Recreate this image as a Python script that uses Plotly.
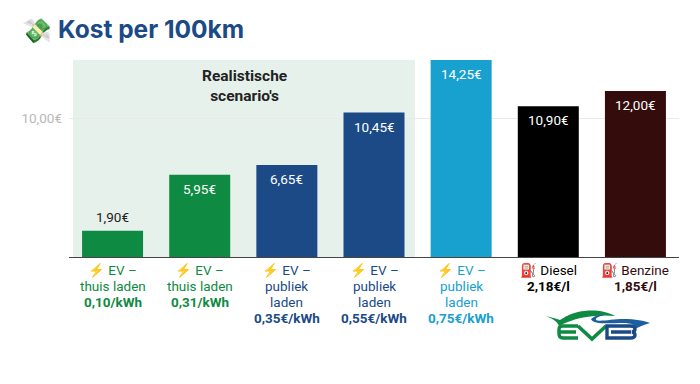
import plotly.graph_objects as go
import base64

categories = [["EV –", "thuis laden"], ["EV –", "thuis laden"], ["EV –", "publiek", "laden"], ["EV –", "publiek", "laden"], ["EV –", "publiek", "laden"], ["Diesel"], ["Benzine"]]
icons = ["⚡", "⚡", "⚡", "⚡", "⚡", "⛽", "⛽"]
prices = ["0,10/kWh", "0,31/kWh", "0,35€/kWh", "0,55€/kWh", "0,75€/kWh", "2,18€/l", "1,85€/l"]
values = [1.90, 5.95, 6.65, 10.45, 14.25, 10.90, 12.00]
value_labels = ["1,90€", "5,95€", "6,65€", "10,45€", "14,25€", "10,90€", "12,00€"]
bar_colors = ["#0f8a43", "#0f8a43", "#1b4a87", "#1b4a87", "#18a0cf", "#000000", "#340c0c"]

logo_svg = """<svg xmlns='http://www.w3.org/2000/svg' viewBox='0 0 125 45'>
<path d='M10 11 C17 13 22 16 24 21 C36 13 50 9 66 7 C50 5 34 9 25 15 C20 13 15 12 10 11Z' fill='#0f8a43'/>
<path d='M24 21 C40 12 62 9 80 11 C68 4 46 3 30 12 Z' fill='#0f8a43'/>
<path d='M56 14 C60 10 66 9 70 10 C64 11 60 13 61 15 C64 17 78 14 88 14 C100 14 110 16 115 18 C108 20 104 22 100 24 C102 20 96 18 88 18 C76 18 58 20 56 14Z' fill='#1b5f9e'/>
<path d='M43 21 H28 Q24 21 24 24 V29 Q24 33 28 33 H43 M25 27 H41' fill='none' stroke='#0f8a43' stroke-width='3.4'/>
<path d='M43 21 L57 34 L71 21' fill='none' stroke='#0f8a43' stroke-width='3.6'/>
<path d='M72 21 H95 Q100 21 100 24 Q100 26.5 97 27 Q100 27.5 100 30 Q100 33 95 33 H72 Z M76 27 H96' fill='#ffffff' stroke='#1b4a87' stroke-width='3.4'/>
</svg>"""
logo_uri = "data:image/svg+xml;base64," + base64.b64encode(logo_svg.encode()).decode()

x = list(range(len(values)))
fig = go.Figure(go.Bar(
    x=x, y=values, width=0.7, marker=dict(color=bar_colors, line=dict(width=0)),
    cliponaxis=False, hoverinfo="skip",
))
for i, (v, lab) in enumerate(zip(values, value_labels)):
    fig.add_annotation(x=i, y=v, text=lab, showarrow=False, yanchor="middle",
                       yshift=14 if i == 0 else -14,
                       font=dict(family="Roboto", size=13.5, color="#222222" if i == 0 else "#ffffff"))
# category labels, one annotation per line (16px line pitch, per-category colour)
for i, (cat, icon, price, col) in enumerate(zip(categories, icons, prices, bar_colors)):
    lines = [f"{icon} {cat[0]}"] + cat[1:] + [f"<b>{price}</b>"]
    for k, line in enumerate(lines):
        fig.add_annotation(x=i, xref="x", yref="paper", y=0, xanchor="center", yanchor="middle",
                           yshift=-13 - 16 * k, showarrow=False, text=line,
                           font=dict(family="Roboto", size=13.5, color=col))
fig.add_shape(type="rect", layer="between", xref="paper", yref="paper", x0=0.0066, x1=0.5672, y0=0, y1=1,
              fillcolor="#e6f1ec", line_width=0)
fig.add_annotation(xref="paper", yref="paper", x=0.2885, xanchor="center", y=1.0, yanchor="top", yshift=-5, showarrow=False,
                   text="<b>Realistische<br>scenario's</b>", font=dict(family="Roboto", size=15.5, color="#222222"))
fig.add_annotation(xref="paper", yref="paper", xanchor="left", yanchor="middle", x=-0.0217, y=1.158, showarrow=False,
                   text="<b>Kost per 100km</b>", font=dict(family="Inter", size=24.5, color="#1b4a87", weight=800))
fig.add_annotation(xref="paper", yref="paper", xanchor="center", yanchor="middle", x=-0.0525, y=1.145, showarrow=False,
                   text="💸", font=dict(family="Noto Color Emoji", size=24))
fig.add_layout_image(source=logo_uri, xref="paper", yref="paper", x=(535-69)/610, y=(257-305)/197,
                     sizex=125/610, sizey=45/197, xanchor="left", yanchor="top", sizing="stretch", layer="above")

fig.update_layout(
    width=700, height=384, margin=dict(l=61, r=29, t=52, b=135, autoexpand=False),
    paper_bgcolor="white", plot_bgcolor="white", showlegend=False,
    xaxis=dict(tickmode="array", tickvals=x, showticklabels=False, range=[-0.5, 6.5], showgrid=False,
               showline=True, linecolor="#444444", linewidth=1, ticks=""),
    yaxis=dict(range=[0, 14.25], tickmode="array", tickvals=[10], ticktext=["10,00€"], showgrid=True,
               gridcolor="#eaeaea", zeroline=False, showline=False, ticks="", ticklabelstandoff=6,
               tickfont=dict(family="Roboto", size=13.5, color="#b8b8b8")),
)
fig.write_html("out.html")
